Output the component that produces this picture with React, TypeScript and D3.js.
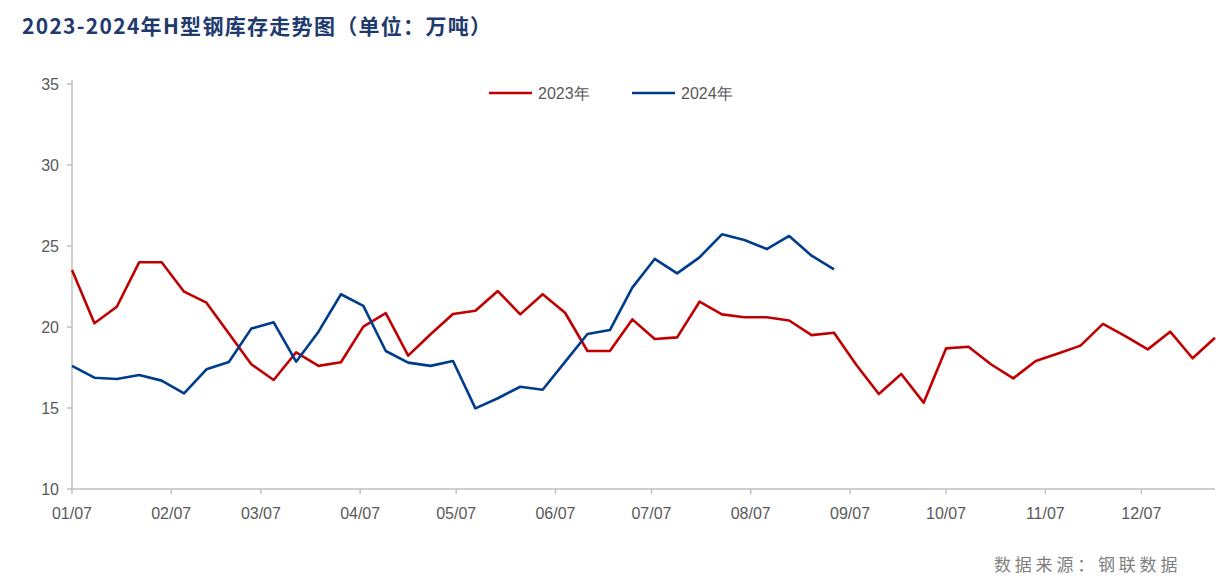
import React from "react";
import * as d3 from "d3";

const startDate = new Date(2023, 0, 7);
const endDate = new Date(2023, 11, 30);
const yTicks = [10, 15, 20, 25, 30, 35];
const xTickMonths = [0, 1, 2, 3, 4, 5, 6, 7, 8, 9, 10, 11];
const seriesNames = ["2023年", "2024年"];
const seriesColors = ["#C00000", "#003C8C"];

const values2023 = [
  23.52, 20.23, 21.25, 24.0, 24.0, 22.18, 21.5, 19.6, 17.7, 16.73,
  18.44, 17.6, 17.82, 20.02, 20.85, 18.23, 19.55, 20.8, 21.0, 22.22,
  20.78, 22.02, 20.88, 18.52, 18.52, 20.47, 19.26, 19.36, 21.56, 20.78,
  20.6, 20.6, 20.4, 19.5, 19.65, 17.65, 15.86, 17.1, 15.33, 18.68,
  18.78, 17.7, 16.83, 17.9, 18.37, 18.85, 20.19, 19.44, 18.62, 19.71,
  18.07, 19.34,
];
const values2024 = [
  17.6, 16.87, 16.79, 17.04, 16.69, 15.9, 17.39, 17.84, 19.9, 20.29,
  17.86, 19.71, 22.02, 21.3, 18.52, 17.8, 17.6, 17.9, 14.98, 15.6,
  16.31, 16.13, 17.85, 19.57, 19.81, 22.43, 24.2, 23.31, 24.3, 25.72,
  25.37, 24.81, 25.62, 24.4, 23.56,
];

const W = 1231;
const H = 580;
const left = 72;
const right = 1215;
const top = 84;
const bottom = 489;

export default function App() {
  const x = d3.scaleTime().domain([startDate, endDate]).range([left, right]);
  const y = d3.scaleLinear().domain([10, 35]).range([bottom, top]);
  const dateAt = (i: number) => d3.timeDay.offset(startDate, i * 7);
  const line = d3
    .line<number>()
    .x((_, i) => x(dateAt(i)))
    .y((d) => y(d));
  const axisColor = "#BFBFBF";
  const textColor = "#595959";
  const font = "'Liberation Sans', 'Noto Sans', Arial, sans-serif";
  const cjk = "'Noto Sans CJK SC', sans-serif";
  const series = [values2023, values2024];

  return (
    <svg width={W} height={H} style={{ position: "absolute", left: 0, top: 0, background: "#fff" }}>
      <text x={22} y={34} fontFamily={cjk} fontWeight={700} fontSize={21} letterSpacing={1.3} fill="#1F3A6E">
        2023-2024年H型钢库存走势图（单位：万吨）
      </text>
      {/* axes */}
      <line x1={left} x2={left} y1={top - 4} y2={bottom} stroke={axisColor} strokeWidth={1.5} />
      <line x1={left} x2={right} y1={bottom} y2={bottom} stroke={axisColor} strokeWidth={1.5} />
      {yTicks.map((t) => (
        <g key={t}>
          <line x1={left - 5} x2={left} y1={y(t)} y2={y(t)} stroke={axisColor} strokeWidth={1.5} />
          <text x={left - 13} y={y(t) + 6} textAnchor="end" fontFamily={font} fontSize={16} fill={textColor}>
            {t}
          </text>
        </g>
      ))}
      {xTickMonths.map((m) => {
        const d = new Date(2023, m, 7);
        const px = x(d);
        return (
          <g key={m}>
            <line x1={px} x2={px} y1={bottom} y2={bottom + 5} stroke={axisColor} strokeWidth={1.5} />
            <text x={px} y={bottom + 30} textAnchor="middle" fontFamily={font} fontSize={16} fill={textColor}>
              {d3.timeFormat("%m/%d")(d)}
            </text>
          </g>
        );
      })}
      {series.map((s, k) => (
        <path key={k} d={line(s) || ""} fill="none" stroke={seriesColors[k]} strokeWidth={2.6} strokeLinejoin="round" />
      ))}
      {/* legend */}
      {seriesNames.map((n, k) => (
        <g key={n} transform={`translate(${489 + k * 143}, 93)`}>
          <line x1={0} x2={43} y1={0} y2={0} stroke={seriesColors[k]} strokeWidth={2.6} />
          <text x={49} y={6} fontFamily={font} fontSize={16} fill={textColor}>
            {n}
          </text>
        </g>
      ))}
      <text x={994} y={571} fontFamily={cjk} fontSize={17} fill="#7F7F7F" letterSpacing={3.8}>
        数据来源：钢联数据
      </text>
    </svg>
  );
}
